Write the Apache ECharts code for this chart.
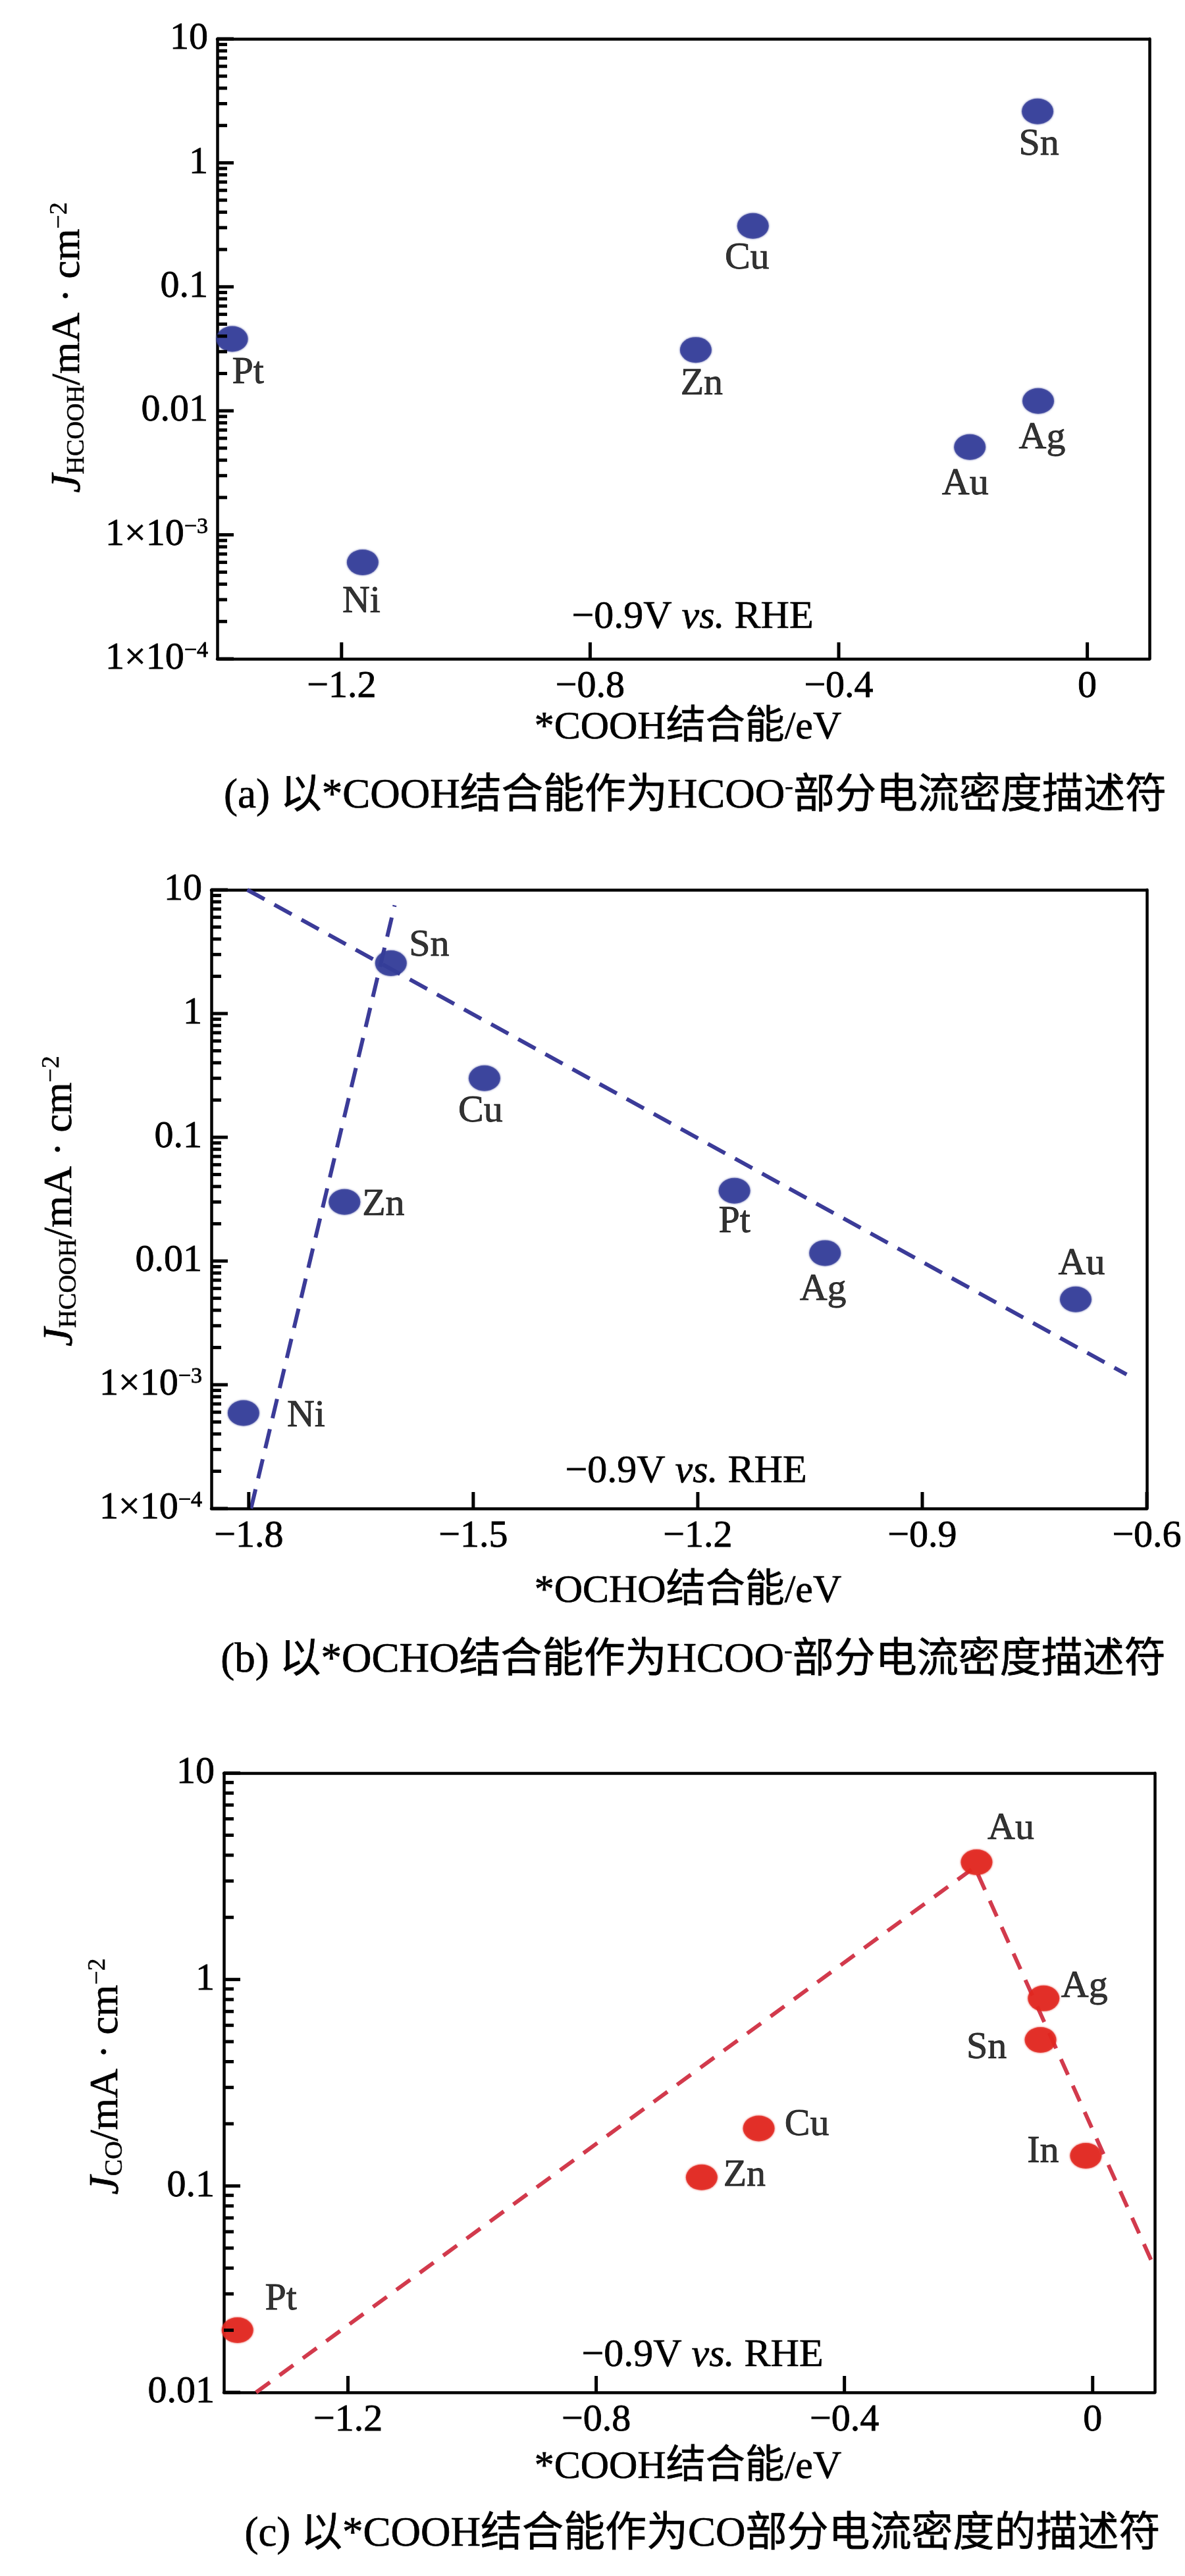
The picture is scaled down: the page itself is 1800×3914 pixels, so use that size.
<!DOCTYPE html>
<html lang="zh">
  <head>
    <meta charset="UTF-8" />
    <title>电流密度描述符</title>
    <script src="https://cdn.jsdelivr.net/npm/echarts@6.0.0/dist/echarts.min.js"></script>
    <style>
      body { margin: 0; background: #fff; }
    </style>
  </head>
  <body>
    <div id="main" style="width: 1800px; height: 3914px"></div>
    <script type="text/javascript">
      // (a) HCOOH partial current vs *COOH binding energy
      const metalsA = ["Pt", "Ni", "Zn", "Cu", "Au", "Ag", "Sn"];
      const coohA = [-1.376, -1.166, -0.63, -0.538, -0.189, -0.079, -0.08];
      const jHcoohA = [0.038, 0.0006, 0.031, 0.31, 0.0051, 0.012, 2.6];

      // (b) HCOOH partial current vs *OCHO binding energy
      const metalsB = ["Ni", "Zn", "Sn", "Cu", "Pt", "Ag", "Au"];
      const ochoB = [-1.807, -1.672, -1.61, -1.485, -1.151, -1.03, -0.695];
      const jHcoohB = [0.00059, 0.03, 2.55, 0.3, 0.037, 0.0116, 0.0049];
      const fitB1 = [[-1.797, 0.0001], [-1.605, 7.5]];
      const fitB2 = [[-1.802, 10], [-0.627, 0.00121]];

      // (c) CO partial current vs *COOH binding energy
      const metalsC = ["Pt", "Zn", "Cu", "Au", "Ag", "Sn", "In"];
      const coohC = [-1.378, -0.63, -0.538, -0.187, -0.079, -0.084, -0.011];
      const jCoC = [0.02, 0.11, 0.19, 3.7, 0.81, 0.51, 0.14];
      const fitC = [[-1.348, 0.01], [-0.19, 3.5], [0.1, 0.04]];

      // tick values and labels
      const xTicksA = [-1.2, -0.8, -0.4, 0];
      const xTickLabelsA = ["−1.2", "−0.8", "−0.4", "0"];
      const xTicksB = [-1.8, -1.5, -1.2, -0.9, -0.6];
      const xTickLabelsB = ["−1.8", "−1.5", "−1.2", "−0.9", "−0.6"];
      const yTickExp = [-4, -3, -2, -1, 0, 1];
      const yTickLabels = ["1×10{sup|−4}", "1×10{sup|−3}", "0.01", "0.1", "1", "10"];
      const minorMults = [2, 3, 4, 5, 6, 7, 8, 9];

      const FONT = '"Liberation Serif", "Times New Roman", "Noto Sans CJK SC", serif';
      const INK = "#000";
      const NAVY = "#343d99";
      const RED = "#e1271f";
      const BOLDEN = { textBorderColor: INK, textBorderWidth: 0.8 };

      // label offsets from the dot centre
      const offA = { Pt: [24, 52], Ni: [-2, 60], Zn: [9, 52], Cu: [-9, 50], Au: [-7, 56], Ag: [6, 56], Sn: [2, 51] };
      const offB = { Sn: [58, -27], Zn: [59, 4], Ni: [95, 5], Cu: [-6, 50], Pt: [0, 48], Ag: [-3, 56], Au: [9, -53] };
      const offC = { Pt: [66, -47], Zn: [65, -3], Cu: [73, -5], Au: [52, -51], Ag: [62, -18], Sn: [-82, 12], In: [-65, -6] };

      const axisLine = { show: true, onZero: false, lineStyle: { color: INK, width: 4.5 } };

      function xAxisFor(gi, min, max, ticks, labels) {
        return {
          type: "value", gridIndex: gi, min: min, max: max, position: "bottom",
          axisLine: axisLine,
          axisTick: { show: false },
          axisLabel: Object.assign({
            customValues: ticks, margin: 14, fontFamily: FONT, fontSize: 58, color: INK,
            formatter: (v) => {
              const i = ticks.findIndex((t) => Math.abs(t - v) < 1e-6);
              return i >= 0 ? labels[i] : "";
            },
          }, BOLDEN),
          splitLine: { show: false },
        };
      }

      function yAxisFor(gi, min, max) {
        return {
          type: "log", logBase: 10, gridIndex: gi, min: min, max: max, position: "left",
          axisLine: axisLine,
          axisTick: { show: false },
          minorTick: { show: false },
          axisLabel: Object.assign({
            margin: 14, fontFamily: FONT, fontSize: 58, color: INK,
            formatter: (v) => {
              const i = yTickExp.indexOf(Math.round(Math.log10(v)));
              return i >= 0 ? yTickLabels[i] : "";
            },
            rich: { sup: Object.assign({ fontFamily: FONT, fontSize: 34, verticalAlign: "top", color: INK }, BOLDEN) },
          }, BOLDEN),
          splitLine: { show: false },
          minorSplitLine: { show: false },
        };
      }

      // plain axes on the top and right close the frame
      const frameX = (gi, min, max) => ({
        type: "value", gridIndex: gi, min: min, max: max, position: "top",
        axisLine: axisLine, axisTick: { show: false }, axisLabel: { show: false }, splitLine: { show: false },
      });
      const frameY = (gi, min, max) => ({
        type: "log", gridIndex: gi, min: min, max: max, position: "right",
        axisLine: axisLine, axisTick: { show: false }, axisLabel: { show: false },
        splitLine: { show: false }, minorTick: { show: false },
      });

      function dots(gi, names, xs, ys, color, offs) {
        return {
          type: "scatter", xAxisIndex: gi, yAxisIndex: gi, z: 5,
          symbol: "circle", symbolSize: [48, 39],
          itemStyle: { color: color, shadowBlur: 3, shadowColor: color },
          label: Object.assign({
            show: true, position: "inside", fontFamily: FONT, fontSize: 58, color: INK,
            formatter: (p) => p.data.name,
          }, BOLDEN),
          data: names.map((n, i) => ({ name: n, value: [xs[i], ys[i]], label: { offset: offs[n] } })),
        };
      }

      function dashed(gi, pts, color, dash) {
        return {
          type: "line", xAxisIndex: gi, yAxisIndex: gi, z: 3, clip: true,
          symbol: "none", silent: true,
          lineStyle: { color: color, width: 6, type: dash },
          data: pts,
        };
      }

      // free-standing texts: axis titles, potential note and captions
      const text = (x, y, str, size, extra) => Object.assign({
        type: "text", x: x, y: y, z: 10, silent: true,
        style: {
          text: str, fontFamily: FONT, fontSize: size, fill: INK, stroke: INK, lineWidth: 0.7,
          align: "center", verticalAlign: "middle",
          rich: {
            i: { fontFamily: FONT, fontSize: size, fontStyle: "italic", fill: INK, stroke: INK, lineWidth: 0.7 },
            j: { fontFamily: FONT, fontSize: size + 2, fontStyle: "italic", fill: INK, stroke: INK, lineWidth: 0.7 },
            sub: { fontFamily: FONT, fontSize: 38, verticalAlign: "bottom", fill: INK, stroke: INK, lineWidth: 0.5 },
            sup: { fontFamily: FONT, fontSize: 38, verticalAlign: "top", fill: INK, stroke: INK, lineWidth: 0.5 },
          },
        },
      }, extra || {});

      const yTitleHcooh = "{j|J}{sub|HCOOH}/mA · cm{sup|−2}";
      const yTitleCo = "{j|J}{sub|CO}/mA · cm{sup|−2}";
      const note = "−0.9V {i|vs.} RHE";
      const up = { rotation: Math.PI / 2 };

      const labels = [
        text(104, 528, yTitleHcooh, 62, up),
        text(92, 1825, yTitleHcooh, 62, up),
        text(162, 3155, yTitleCo, 62, up),
        text(1045, 1106, "*COOH结合能/eV", 60),
        text(1045, 2418, "*OCHO结合能/eV", 60),
        text(1045, 3749, "*COOH结合能/eV", 60),
        text(1052, 938, note, 60),
        text(1042, 2236, note, 60),
        text(1067, 3579, note, 60),
        text(1056, 1210, "(a) 以*COOH结合能作为HCOO{sup|-}部分电流密度描述符", 63),
        text(1053, 2523, "(b) 以*OCHO结合能作为HCOO{sup|-}部分电流密度描述符", 63),
        text(1067, 3851, "(c) 以*COOH结合能作为CO部分电流密度的描述符", 63),
      ];

      const options = {
        animation: false,
        backgroundColor: "#fff",
        grid: [
          { left: 330, top: 59, width: 1416, height: 942 },
          { left: 321, top: 1352, width: 1421, height: 940 },
          { left: 340, top: 2694, width: 1414, height: 941 },
        ],
        xAxis: [
          xAxisFor(0, -1.4, 0.1, xTicksA, xTickLabelsA),
          xAxisFor(1, -1.85, -0.6, xTicksB, xTickLabelsB),
          xAxisFor(2, -1.4, 0.1, xTicksA, xTickLabelsA),
          frameX(0, -1.4, 0.1),
          frameX(1, -1.85, -0.6),
          frameX(2, -1.4, 0.1),
        ],
        yAxis: [
          yAxisFor(0, 0.0001, 10),
          yAxisFor(1, 0.0001, 10),
          yAxisFor(2, 0.01, 10),
          frameY(0, 0.0001, 10),
          frameY(1, 0.0001, 10),
          frameY(2, 0.01, 10),
        ],
        graphic: labels,
        series: [
          dots(0, metalsA, coohA, jHcoohA, NAVY, offA),
          dashed(1, fitB1, "#3b3b98", [30, 17]),
          dashed(1, fitB2, "#3b3b98", [30, 17]),
          dots(1, metalsB, ochoB, jHcoohB, NAVY, offB),
          dashed(2, fitC, "#d23a4c", [26, 18]),
          dots(2, metalsC, coohC, jCoC, RED, offC),
        ],
      };

      let myChart = echarts.init(document.getElementById("main"));
      myChart.setOption(options);

      // inward tick marks, placed with the axes' own scales
      function tickLines(gi, xMin, yMin, xTicks, expLo, expHi) {
        const out = [];
        const seg = (p, dx, dy) => ({
          type: "line", z: 20, silent: true,
          shape: { x1: p[0], y1: p[1], x2: p[0] + dx, y2: p[1] + dy },
          style: { stroke: INK, lineWidth: 5 },
        });
        const px = (x, y) => myChart.convertToPixel({ xAxisIndex: gi, yAxisIndex: gi }, [x, y]);
        xTicks.forEach((t) => out.push(seg(px(t, yMin), 0, -25)));
        for (let e = expLo; e <= expHi; e++) {
          const base = Math.pow(10, e);
          out.push(seg(px(xMin, base), 25, 0));
          if (e < expHi) minorMults.forEach((m) => out.push(seg(px(xMin, m * base), 15, 0)));
        }
        return out;
      }

      const tickMarks = [].concat(
        tickLines(0, -1.4, 0.0001, xTicksA, -4, 1),
        tickLines(1, -1.85, 0.0001, xTicksB, -4, 1),
        tickLines(2, -1.4, 0.01, xTicksA, -2, 1)
      );
      myChart.setOption({ graphic: labels.concat(tickMarks) });
    </script>
  </body>
</html>
